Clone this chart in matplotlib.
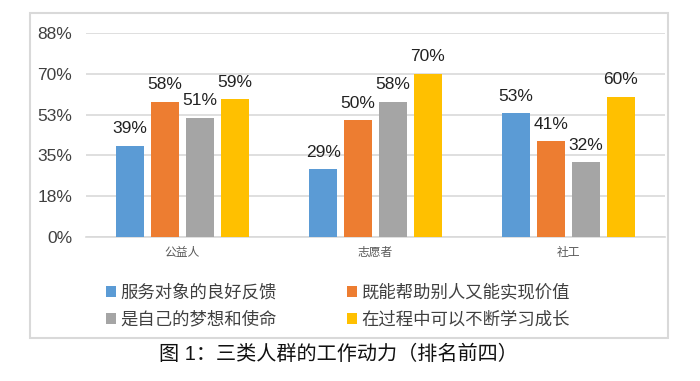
import matplotlib
matplotlib.use("Agg")
import matplotlib.pyplot as plt
from matplotlib.patches import Rectangle
import numpy as np

plt.rcParams['font.family'] = ['Liberation Sans', 'Noto Sans CJK SC', 'DejaVu Sans']

# données
categories = ["公益人", "志愿者", "社工"]
series_names = ["服务对象的良好反馈", "既能帮助别人又能实现价值",
                "是自己的梦想和使命", "在过程中可以不断学习成长"]
fankui = [39, 29, 53]
jiazhi = [58, 50, 41]
mengxiang = [51, 58, 32]
chengzhang = [59, 70, 60]
series_values = [fankui, jiazhi, mengxiang, chengzhang]
y_ticks = [0, 17.5, 35, 52.5, 70, 87.5]
y_tick_labels = ["0%", "18%", "35%", "53%", "70%", "88%"]
caption = "图 1：三类人群的工作动力（排名前四）"

colors = ["#5B9BD5", "#ED7D31", "#A5A5A5", "#FFC000"]
grid_color = "#D9D9D9"
text_color = "#404040"

fig = plt.figure(figsize=(7, 3.81), dpi=100)

# cadre gris autour du graphique
fig.patches.append(Rectangle((30 / 700, 1 - 338 / 381), 638 / 700, 325 / 381,
                             transform=fig.transFigure, fill=False,
                             edgecolor=grid_color, linewidth=1.5))

ax = fig.add_axes([86 / 700, 1 - 237 / 381, 579 / 700, 204 / 381])

x = np.arange(len(categories))
w = 0.145
step = 0.181
handles = []
for i, vals in enumerate(series_values):
    pos = x + (i - 1.5) * step
    bars = ax.bar(pos, vals, width=w, color=colors[i], zorder=3,
                  label=series_names[i])
    ax.bar_label(bars, labels=[f"{v}%" for v in vals], padding=7,
                 fontsize=12.5, color="#222222")
    handles.append(bars)

ax.set_xlim(-0.5, 2.5)
ax.set_ylim(0, 87.5)
ax.set_yticks(y_ticks)
ax.set_yticklabels(y_tick_labels, fontsize=12.5, color=text_color)
ax.set_xticks(x)
ax.set_xticklabels(categories, fontsize=8.5, color="#595959")
ax.tick_params(axis='both', length=0)
ax.tick_params(axis='y', pad=10)
ax.tick_params(axis='x', pad=7)
ax.yaxis.grid(True, color=grid_color, linewidth=1.2, zorder=0)
for s in ["left", "right", "top"]:
    ax.spines[s].set_visible(False)
ax.spines["bottom"].set_color(grid_color)
ax.spines["bottom"].set_linewidth(1.2)
ax.set_facecolor("none")

# légende remplie ligne par ligne (ncol=2 remplit par colonne)
order = [0, 2, 1, 3]
fig.legend(handles=[handles[k] for k in order], loc="center",
           bbox_to_anchor=(338 / 700, 1 - 305.5 / 381),
           ncol=2, frameon=False, fontsize=12.5, handlelength=0.6, handleheight=0.6,
           handletextpad=0.25, columnspacing=4.0, labelspacing=0.6,
           labelcolor=text_color, borderpad=0)

fig.text(338 / 700, 1 - 354 / 381, caption, ha="center", va="center",
         fontsize=14.5, color="#111111")

fig.savefig("out.png", dpi=100)
